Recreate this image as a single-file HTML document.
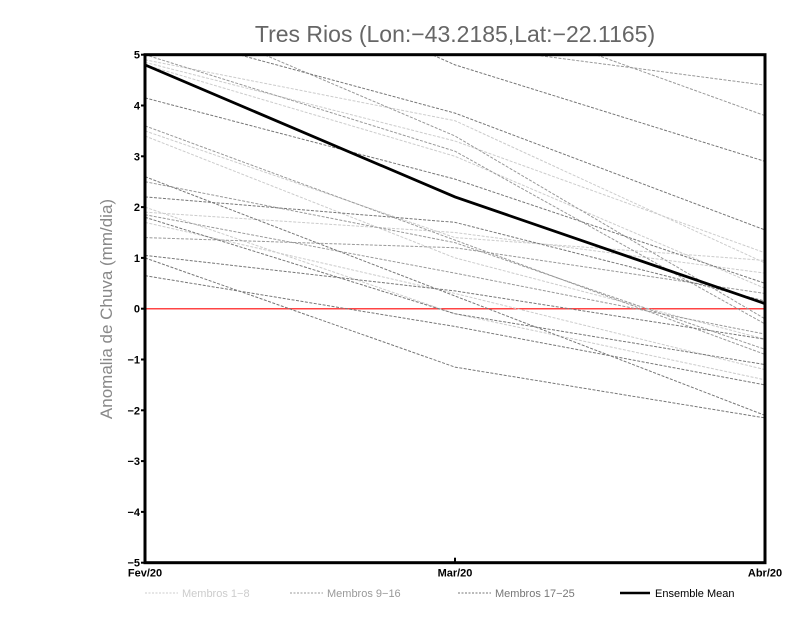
<!DOCTYPE html>
<html><head><meta charset="utf-8"><style>
body{margin:0;background:#fff;width:800px;height:618px;overflow:hidden}
svg text{font-family:"Liberation Sans",sans-serif}
</style></head><body>
<svg id="chart" width="800" height="618">
<text x="455" y="42" text-anchor="middle" font-size="23" fill="#666">Tres Rios (Lon:−43.2185,Lat:−22.1165)</text>
<text transform="translate(112,309) rotate(-90)" text-anchor="middle" font-size="17" fill="#888">Anomalia de Chuva (mm/dia)</text>
<defs><clipPath id="pc"><rect x="145" y="55" width="620" height="508"/></clipPath></defs>
<g id="series" clip-path="url(#pc)"></g>
<g id="axes"></g>
<g id="legend">
<line x1="145" y1="593" x2="178" y2="593" stroke="#ccc" stroke-dasharray="2,1.5"/><text x="182" y="597" font-size="11" fill="#ccc">Membros 1−8</text>
<line x1="290" y1="593" x2="323" y2="593" stroke="#999" stroke-dasharray="2,1.5"/><text x="327" y="597" font-size="11" fill="#999">Membros 9−16</text>
<line x1="458" y1="593" x2="491" y2="593" stroke="#777" stroke-dasharray="2,1.5"/><text x="495" y="597" font-size="11" fill="#777">Membros 17−25</text>
<line x1="620" y1="593" x2="650" y2="593" stroke="#000" stroke-width="2.5"/><text x="655" y="597" font-size="11" fill="#000">Ensemble Mean</text>
</g>
</svg>
<script>
const categories=["Fev/20","Mar/20","Abr/20"];
const yTicks=[-5,-4,-3,-2,-1,0,1,2,3,4,5];
const membros1to8=[[4.9,3.7,0.9],[4.8,3.0,0.4],[3.5,1.4,0.95],[1.9,1.5,0.7],[1.7,0.3,-1.2],[4.85,3.3,1.1],[3.4,1.0,-0.6],[2.0,-0.1,-1.4]];
const membros9to16=[[6.0,3.4,-0.2],[5.0,3.1,-0.3],[2.5,1.3,-0.8],[1.85,0.7,-0.5],[7.0,5.2,4.4],[3.6,1.35,-0.9],[1.4,1.2,0.3],[8.0,6.0,3.8]];
const membros17to25=[[5.5,3.85,1.55],[4.15,2.55,0.5],[2.2,1.7,0.15],[1.05,0.35,-0.6],[0.65,-0.35,-1.5],[2.6,0.25,-2.1],[7.5,4.8,2.9],[1.8,-0.1,-1.1],[1.0,-1.15,-2.15]];
const ensembleMean=[4.8,2.2,0.1];
const NS="http://www.w3.org/2000/svg";
const X0=145,X1=765,Y0=562.7,Y1=54.7;
const xs=i=>X0+(X1-X0)*i/(categories.length-1);
const ys=v=>Y0-(v+5)*(Y0-Y1)/10;
function mk(t,a,p){const e=document.createElementNS(NS,t);for(const k in a)e.setAttribute(k,a[k]);p.appendChild(e);return e;}
const S=document.getElementById('series'),A=document.getElementById('axes');
function pts(d){return d.map((v,i)=>xs(i)+','+ys(v)).join(' ');}
const z=mk('line',{x1:X0,x2:X1,y1:ys(0),y2:ys(0),stroke:'#f44','stroke-width':1.5},S);


[[membros1to8,'#ccc','membro-light'],[membros9to16,'#999','membro-mid'],[membros17to25,'#777','membro-dark']].forEach(([set,c,n])=>{
 set.forEach((d,k)=>{const p=mk('polyline',{points:pts(d),fill:'none',stroke:c,'stroke-width':1,'stroke-dasharray':'3,1.5'},S);
 
 });
});
const m=mk('polyline',{points:pts(ensembleMean),fill:'none',stroke:'#000','stroke-width':2.8},S);


const fr=mk('rect',{x:X0,y:Y1,width:X1-X0,height:Y0-Y1,fill:'none',stroke:'#000','stroke-width':3},A);


yTicks.forEach(v=>{mk('line',{x1:X0-4,x2:X0,y1:ys(v),y2:ys(v),stroke:'#000','stroke-width':2},A);
 const t=mk('text',{x:X0-5,y:ys(v)+4,'text-anchor':'end','font-size':11,'font-weight':'bold'},A);t.textContent=v<0?'−'+(-v):v;
 
 });
categories.forEach((c,i)=>{mk('line',{x1:xs(i),x2:xs(i),y1:Y0,y2:Y0-5,stroke:'#000','stroke-width':2},A);
 const t=mk('text',{x:xs(i),y:Y0+14,'text-anchor':'middle','font-size':11,'font-weight':'bold'},A);t.textContent=c;
 
 });
</script>
</body></html>
